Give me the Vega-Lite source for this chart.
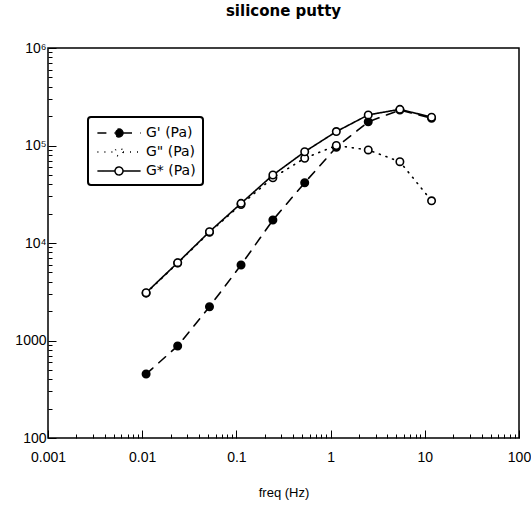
{
  "$schema": "https://vega.github.io/schema/vega-lite/v6.json",
  "width": 471,
  "height": 390,
  "autosize": {"type": "none"},
  "padding": {"left": 48, "top": 48, "right": 12, "bottom": 81},
  "background": "white",
  "title": {"text": "silicone  putty", "font": "DejaVu Sans", "fontSize": 15, "fontWeight": "bold", "color": "black", "anchor": "middle", "offset": 22},
  "config": {
    "view": {"stroke": "black", "strokeWidth": 1.5},
    "axis": {"labelFont": "Liberation Sans", "labelFontSize": 14, "labelColor": "black", "titleFont": "Liberation Sans", "titleFontSize": 13, "titleFontWeight": "normal", "titleColor": "black", "domainColor": "black", "tickColor": "black", "grid": false},
    "legend": {"orient": "none", "legendX": 40, "legendY": 69,
      "strokeColor": "black", "strokeWidth": 2, "cornerRadius": 3, "fillColor": "white",
      "padding": 7, "rowPadding": 3, "title": null,
      "symbolType": "M-2.7,0H-0.5 M0.5,0H2.7 M0.5,0A0.5,0.5 0 1 1 -0.5,0A0.5,0.5 0 1 1 0.5,0",
      "symbolSize": 256, "symbolStrokeColor": "black", "symbolStrokeWidth": 1.5,
      "symbolOffset": 15, "labelOffset": 18,
      "labelFont": "DejaVu Sans", "labelFontSize": 14, "labelColor": "black"}
  },
  "data": {"values": [
    {"f": 0.011, "series": "G' (Pa)", "v": 453},
    {"f": 0.0238, "series": "G' (Pa)", "v": 879},
    {"f": 0.0518, "series": "G' (Pa)", "v": 2220},
    {"f": 0.112, "series": "G' (Pa)", "v": 5950},
    {"f": 0.244, "series": "G' (Pa)", "v": 17200},
    {"f": 0.531, "series": "G' (Pa)", "v": 41500},
    {"f": 1.15, "series": "G' (Pa)", "v": 95900},
    {"f": 2.51, "series": "G' (Pa)", "v": 175000},
    {"f": 5.44, "series": "G' (Pa)", "v": 231000},
    {"f": 11.8, "series": "G' (Pa)", "v": 190000},
    {"f": 0.011, "series": "G\" (Pa)", "v": 3060},
    {"f": 0.0238, "series": "G\" (Pa)", "v": 6220},
    {"f": 0.0518, "series": "G\" (Pa)", "v": 12900},
    {"f": 0.112, "series": "G\" (Pa)", "v": 24800},
    {"f": 0.244, "series": "G\" (Pa)", "v": 46700},
    {"f": 0.531, "series": "G\" (Pa)", "v": 74000},
    {"f": 1.15, "series": "G\" (Pa)", "v": 100000},
    {"f": 2.51, "series": "G\" (Pa)", "v": 90000},
    {"f": 5.44, "series": "G\" (Pa)", "v": 68200},
    {"f": 11.8, "series": "G\" (Pa)", "v": 27100},
    {"f": 0.011, "series": "G* (Pa)", "v": 3090},
    {"f": 0.0238, "series": "G* (Pa)", "v": 6280},
    {"f": 0.0518, "series": "G* (Pa)", "v": 13060},
    {"f": 0.112, "series": "G* (Pa)", "v": 25500},
    {"f": 0.244, "series": "G* (Pa)", "v": 49800},
    {"f": 0.531, "series": "G* (Pa)", "v": 86300},
    {"f": 1.15, "series": "G* (Pa)", "v": 139000},
    {"f": 2.51, "series": "G* (Pa)", "v": 206000},
    {"f": 5.44, "series": "G* (Pa)", "v": 235000},
    {"f": 11.8, "series": "G* (Pa)", "v": 195000}
  ]},
  "encoding": {
    "x": {"field": "f", "type": "quantitative",
      "scale": {"type": "log", "domain": [0.001, 100], "nice": false},
      "axis": {"title": "freq (Hz)", "titlePadding": 22,
        "values": [0.001,0.002,0.003,0.004,0.005,0.006,0.007,0.008,0.009,0.01,0.02,0.03,0.04,0.05,0.06,0.07,0.08,0.09,0.1,0.2,0.3,0.4,0.5,0.6,0.7,0.8,0.9,1,2,3,4,5,6,7,8,9,10,20,30,40,50,60,70,80,90,100],
        "labelExpr": "indexof([0.001,0.01,0.1,1,10,100], datum.value) >= 0 ? datum.label : ''",
        "format": "~g",
        "tickSize": {"condition": {"test": "indexof([0.001,0.01,0.1,1,10,100], datum.value) >= 0", "value": -8}, "value": -4},
        "labelPadding": 20, "labelFlush": false, "domain": false}},
    "y": {"field": "v", "type": "quantitative",
      "scale": {"type": "log", "domain": [100, 1000000], "nice": false},
      "axis": {"title": null,
        "values": [100,200,300,400,500,600,700,800,900,1000,2000,3000,4000,5000,6000,7000,8000,9000,10000,20000,30000,40000,50000,60000,70000,80000,90000,100000,200000,300000,400000,500000,600000,700000,800000,900000,1000000],
        "labelExpr": "datum.value == 100 ? '100' : datum.value == 1000 ? '1000' : datum.value == 10000 ? '10⁴' : datum.value == 100000 ? '10⁵' : datum.value == 1000000 ? '10⁶' : ''",
        "tickSize": {"condition": {"test": "indexof([100,1000,10000,100000,1000000], datum.value) >= 0", "value": -8}, "value": -4},
        "labelPadding": 10, "labelFlush": false, "domain": false}}
  },
  "layer": [
    {
      "mark": {"type": "line", "color": "black", "strokeWidth": 1.6, "strokeCap": "round"},
      "encoding": {
        "strokeDash": {"field": "series", "type": "nominal",
          "scale": {"domain": ["G' (Pa)", "G\" (Pa)", "G* (Pa)"], "range": [[9, 8], [1, 6], [1, 0]]}}
      }
    },
    {
      "mark": {"type": "point", "shape": "circle", "filled": false, "stroke": "black", "strokeWidth": 1.6, "size": 55, "opacity": 1},
      "encoding": {
        "fill": {"field": "series", "type": "nominal",
          "scale": {"domain": ["G' (Pa)", "G\" (Pa)", "G* (Pa)"], "range": ["black", "white", "white"]}}
      }
    }
  ]
}
